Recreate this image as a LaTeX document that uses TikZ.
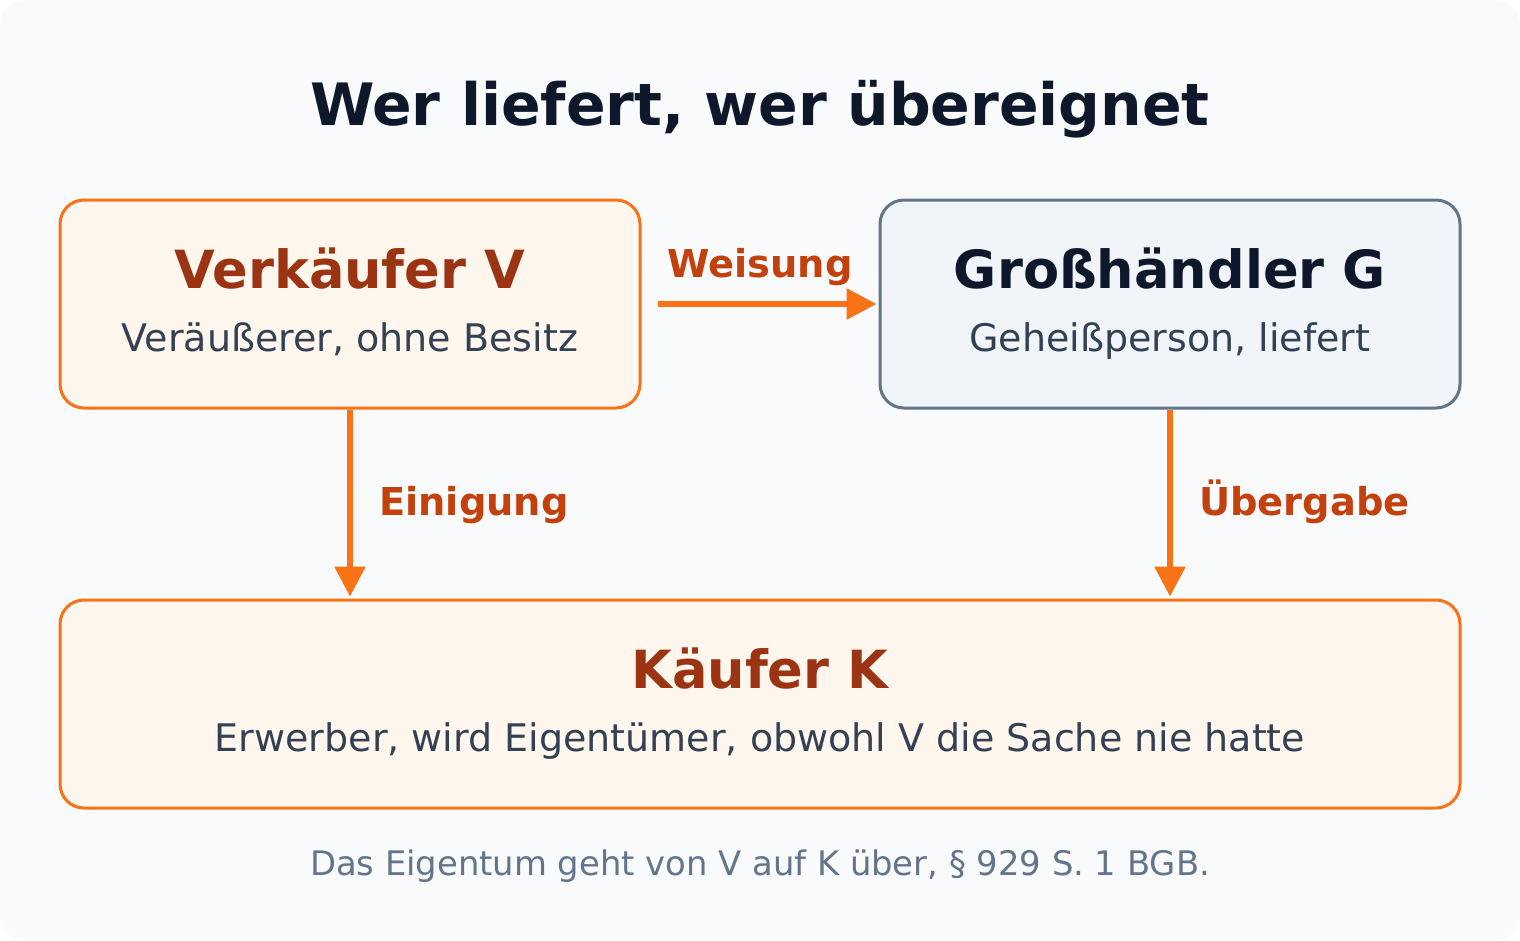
\documentclass[tikz,border=0pt]{standalone}
\usepackage{fontspec}
\setmainfont{DejaVu Sans}
\usetikzlibrary{arrows.meta,calc}
\definecolor{bgc}{HTML}{F8FAFC}
\definecolor{titlec}{HTML}{0F172A}
\definecolor{ofill}{HTML}{FFF7ED}
\definecolor{ostroke}{HTML}{F97316}
\definecolor{ohead}{HTML}{9A3412}
\definecolor{subc}{HTML}{334155}
\definecolor{gfill}{HTML}{F1F5F9}
\definecolor{gstroke}{HTML}{64748B}
\definecolor{labc}{HTML}{C2410C}
\definecolor{footc}{HTML}{64748B}
\tikzset{
  obox/.style={draw=ostroke, fill=ofill, line width=3pt, rounded corners=24pt, inner sep=0pt},
  gbox/.style={draw=gstroke, fill=gfill, line width=3pt, rounded corners=24pt, inner sep=0pt},
  headtxt/.style={anchor=base, inner sep=0pt, font=\fontsize{52.6}{56}\bfseries\selectfont},
  subtxt/.style={anchor=base, inner sep=0pt, text=subc, font=\fontsize{38}{42}\selectfont},
  labtxt/.style={anchor=base, inner sep=0pt, text=labc, font=\fontsize{38.4}{42}\bfseries\selectfont},
  conn/.style={draw=ostroke, line width=6pt, -{Triangle[length=30pt,width=30pt]}},
}
\begin{document}
\begin{tikzpicture}[x=1pt,y=-1pt]
\useasboundingbox (0,0) rectangle (1520,940);
\fill[bgc, rounded corners=24pt] (0,0) rectangle (1520,940);
\node[anchor=base, inner sep=0pt, text=titlec, font=\fontsize{58.4}{62}\bfseries\selectfont] (title) at (760,125) {Wer liefert, wer übereignet};
\node[obox, minimum width=580pt, minimum height=208pt] (V) at (350,304) {};
\node[gbox, minimum width=580pt, minimum height=208pt] (G) at (1170,304) {};
\node[obox, minimum width=1400pt, minimum height=208pt] (K) at (760,704) {};
\node[headtxt, text=ohead] (Vh) at (350,288) {Verkäufer V};
\node[subtxt] (Vs) at (350,351) {Veräußerer, ohne Besitz};
\node[headtxt, text=titlec] (Gh) at (1170,288) {Großhändler G};
\node[subtxt] (Gs) at (1170,351) {Geheißperson, liefert};
\node[headtxt, text=ohead] (Kh) at (760,688) {Käufer K};
\node[subtxt] (Ks) at (760,751) {Erwerber, wird Eigentümer, obwohl V die Sache nie hatte};
\draw[conn] ([xshift=16pt]V.east) -- ([xshift=-2pt]G.west);
\draw[conn] (V.south) -- ($(K.north -| V.south)+(0,-2)$);
\draw[conn] (G.south) -- ($(K.north -| G.south)+(0,-2)$);
\node[labtxt] (lw) at (760,277) {Weisung};
\node[labtxt, anchor=base west] (le) at (379,515) {Einigung};
\node[labtxt, anchor=base west] (lu) at (1199,515) {Übergabe};
\node[anchor=base, inner sep=0pt, text=footc, font=\fontsize{33.8}{38}\selectfont] (foot) at (760,875) {Das Eigentum geht von V auf K über, § 929 S. 1 BGB.};
\end{tikzpicture}
\end{document}
